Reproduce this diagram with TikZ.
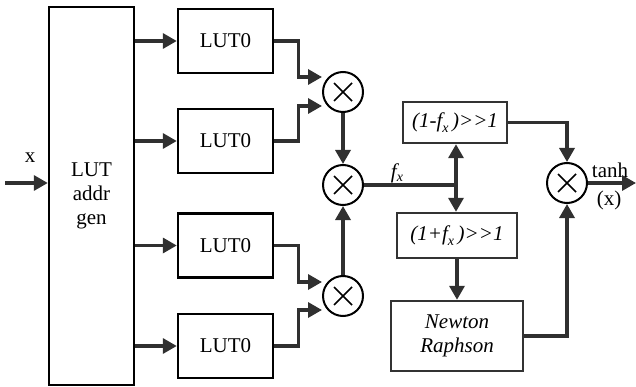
\documentclass[tikz,border=0pt]{standalone}
\usepackage{fontspec}
\setmainfont{Liberation Serif}
\usetikzlibrary{arrows.meta,calc}
\definecolor{ln}{HTML}{303030}
\begin{document}
\begin{tikzpicture}[x=1pt,y=-1pt,
  txt/.style={font=\fontsize{21}{24}\selectfont, text=black},
  lw/.style={line width=3.3pt, draw=ln},
  arr/.style={lw, -{Triangle[length=14pt,width=15pt]}},
  box/.style={draw=black, line width=2.4pt, txt, inner sep=0pt, align=center},
  gbox/.style={draw=black!80, line width=2.4pt, txt, inner sep=0pt, align=center},
  mult/.style={circle, draw=black, line width=2pt, minimum size=40pt, inner sep=0pt,
    path picture={\draw[line width=1.6pt,black]
      ($(path picture bounding box.center)+(-9pt,-9pt)$) -- ++(18pt,18pt)
      ($(path picture bounding box.center)+(-9pt,9pt)$) -- ++(18pt,-18pt);}}
]
\useasboundingbox (0,0) rectangle (636,387);
% main blocks
\node[box, minimum width=85pt, minimum height=378pt] (addr) at (91.5,196) {LUT\\addr\\gen};
\node[box, minimum width=95pt, minimum height=64pt] (l1) at (225.5,41) {LUT0};
\node[box, minimum width=95pt, minimum height=64pt] (l2) at (225.5,141) {LUT0};
\node[box, minimum width=95pt, minimum height=64pt] (l3) at (225.5,245.5) {LUT0};
\node[box, minimum width=95pt, minimum height=64pt] (l4) at (225.5,346) {LUT0};
\node[mult] (m1) at (343,92) {};
\node[mult] (m2) at (343,185) {};
\node[mult] (m3) at (343,296) {};
\node[mult] (m4) at (567,183) {};
\node[gbox, minimum width=104pt, minimum height=41pt] (a) at (455,122.5) {\itshape (1-f\raisebox{-5pt}{\fontsize{14}{14}\selectfont x}\,)>{}>1};
\node[gbox, minimum width=120pt, minimum height=45pt] (b) at (457,235.5) {\itshape (1+f\raisebox{-5pt}{\fontsize{14}{14}\selectfont x}\,)>{}>1};
\node[gbox, minimum width=132pt, minimum height=70pt] (n) at (457,336) {\itshape Newton\\\itshape Raphson};
\coordinate (in) at (5,183);
\coordinate (j) at (456,185);
\coordinate (out) at (636,183);
% labels
\node[txt] (lx) at (30,158) {x};
\node[txt] (lf) at (397,173) {\itshape f\raisebox{-3pt}{\fontsize{14}{14}\selectfont x}};
\node[txt] (lt) at (610,170) {tanh};
\node[txt] (lxo) at (609,200) {(x)};
% connectors
\draw[arr] (in) -- (addr.west |- in);
\draw[arr] (l1.west -| addr.east) -- (l1.west);
\draw[arr] (l2.west -| addr.east) -- (l2.west);
\draw[arr] (l3.west -| addr.east) -- (l3.west);
\draw[arr] (l4.west -| addr.east) -- (l4.west);
\draw[arr] (l1.east) -- ++(24,0) |- ($(m1.west)+(0,-15)$);
\draw[arr] (l2.east) -- ++(24,0) |- ($(m1.west)+(0,14)$);
\draw[arr] (l3.east) -- ++(24,0) |- ($(m3.west)+(0,-14)$);
\draw[arr] (l4.east) -- ++(24,0) |- ($(m3.west)+(0,14)$);
\draw[arr] (m1.south) -- (m2.north);
\draw[arr] (m3.north) -- (m2.south);
\draw[lw] (m2.east) -- (j);
\draw[arr] (j) -- (j |- a.south);
\draw[arr] (j) -- (j |- b.north);
\draw[arr] (b.south) -- (n.north);
\draw[arr] (a.east) -| (m4.north);
\draw[arr] (n.east) -| (m4.south);
\draw[arr] (m4.east) -- (out);
\end{tikzpicture}
\end{document}
